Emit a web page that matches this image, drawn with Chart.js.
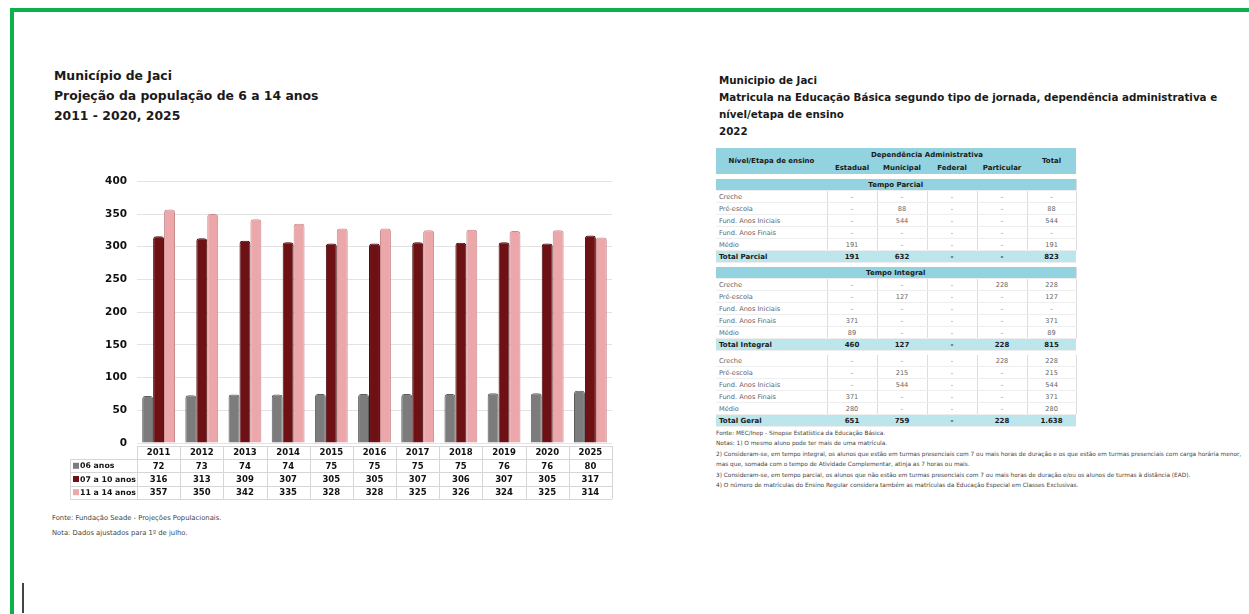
<!DOCTYPE html>
<html>
<head>
<meta charset="utf-8">
<script src="https://cdn.jsdelivr.net/npm/chart.js@4"></script>
<style>
body{margin:0;width:1249px;height:614px;overflow:hidden;position:relative;background:#fff;font-family:"DejaVu Sans",sans-serif}
.frame{position:absolute;left:10px;top:8px;width:1300px;height:700px;border-top:4px solid #0db14b;border-left:4px solid #0db14b}
.cursor{position:absolute;left:22px;top:583px;width:2px;height:30px;background:#444}
.ttl{position:absolute;font-weight:bold;color:#1a1a1a}
#t1{left:54px;top:66px;font-size:12.4px;line-height:20px}
#t2{left:719px;top:72px;font-size:10.3px;line-height:17px}
.fonte{position:absolute;left:52px;top:511px;font-size:6.8px;line-height:15px;color:#444}
#wrap{position:absolute;left:60px;top:165px;width:570px;height:345px}
#tab{position:absolute;left:716px;top:148px;width:360px;border-collapse:collapse;font-size:6.6px;color:#666;table-layout:fixed}
#tab td{height:11px;padding:0 3px;text-align:center;border-right:1px solid #ddd;border-bottom:1px solid #eee;white-space:nowrap}
#tab td.lab{text-align:left}
#tab .h td{background:#92d3df;font-weight:bold;color:#1a1a1a;font-size:7px;border-right:none;border-bottom:none;height:13px}
#tab .sec td{background:#92d3df;font-weight:bold;color:#1a1a1a;font-size:7px;text-align:center}
#tab .tot td{background:#bce5ec;font-weight:bold;color:#1a1a1a;font-size:7px;border-right:none}
#tab .gap td{height:5px;border:none;background:#fff}
#tab .gap2 td{height:4px;border:none;background:#fff}
.notes{position:absolute;left:716px;top:428px;font-size:5.8px;line-height:10.4px;color:#444;white-space:nowrap}
</style>
</head>
<body>
<div class="frame"></div>
<div class="cursor"></div>

<div class="ttl" id="t1">Município de Jaci<br>Projeção da população de 6 a 14 anos<br>2011 - 2020, 2025</div>
<div id="wrap"><canvas id="popChart"></canvas></div>
<div class="fonte">Fonte: Fundação Seade - Projeções Populacionais.<br>Nota: Dados ajustados para 1º de julho.</div>

<div class="ttl" id="t2">Municipio de Jaci<br>Matricula na Educação Básica segundo tipo de jornada, dependência administrativa e<br>nível/etapa de ensino<br>2022</div>
<table id="tab">
<colgroup><col style="width:111px"><col style="width:50px"><col style="width:50px"><col style="width:50px"><col style="width:50px"><col style="width:49px"></colgroup>
</table>
<div class="notes">
Fonte: MEC/Inep - Sinopse Estatística da Educação Básica.<br>
Notas: 1) O mesmo aluno pode ter mais de uma matrícula.<br>
2) Consideram-se, em tempo integral, os alunos que estão em turmas presenciais com 7 ou mais horas de duração e os que estão em turmas presenciais com carga horária menor,<br>
mas que, somada com o tempo de Atividade Complementar, atinja as 7 horas ou mais.<br>
3) Consideram-se, em tempo parcial, os alunos que não estão em turmas presenciais com 7 ou mais horas de duração e/ou os alunos de turmas à distância (EAD).<br>
4) O número de matrículas do Ensino Regular considera também as matrículas da Educação Especial em Classes Exclusivas.
</div>

<script>
// chart data
const years = ["2011","2012","2013","2014","2015","2016","2017","2018","2019","2020","2025"]
const age06 = [72,73,74,74,75,75,75,75,76,76,80]
const age07a10 = [316,313,309,307,305,305,307,306,307,305,317]
const age11a14 = [357,350,342,335,328,328,325,326,324,325,314]
const seriesNames = ["06 anos","07 a 10 anos","11 a 14 anos"]
const yTicks = [0,50,100,150,200,250,300,350,400]

// table data
const niveis = ["Creche","Pré-escola","Fund. Anos Iniciais","Fund. Anos Finais","Médio"]
const parcial = [["-","-","-","-","-"],["-","88","-","-","88"],["-","544","-","-","544"],["-","-","-","-","-"],["191","-","-","-","191"]]
const totalParcial = ["191","632","-","-","823"]
const integral = [["-","-","-","228","228"],["-","127","-","-","127"],["-","-","-","-","-"],["371","-","-","-","371"],["89","-","-","-","89"]]
const totalIntegral = ["460","127","-","228","815"]
const geral = [["-","-","-","228","228"],["-","215","-","-","215"],["-","544","-","-","544"],["371","-","-","-","371"],["280","-","-","-","280"]]
const totalGeral = ["651","759","-","228","1.638"]

const colors = ["#7c7c7c","#6d1115","#eca7ab"]
const edges = ["#5e5e5e","#4a0a0d","#c98a8e"]

const dataTable = {
  id:"dataTable",
  afterDraw(chart){
    const ctx = chart.ctx
    const x = chart.scales.x
    const area = chart.chartArea
    const half = (x.getPixelForValue(1) - x.getPixelForValue(0)) / 2
    const top = area.bottom + 3
    const rowH = 13.2
    const labLeft = 10
    const right = x.getPixelForValue(years.length-1) + half
    const rows = [age06, age07a10, age11a14]
    ctx.save()
    ctx.strokeStyle = "#d6d6d6"
    ctx.lineWidth = 1
    for(let r=0;r<=4;r++){
      const yy = Math.round(top + r*rowH) + 0.5
      ctx.beginPath()
      ctx.moveTo(r==0 ? area.left : labLeft, yy)
      ctx.lineTo(right, yy)
      ctx.stroke()
    }
    for(let i=0;i<=years.length;i++){
      const xx = Math.round(area.left + i*half*2) + 0.5
      ctx.beginPath()
      ctx.moveTo(xx, top)
      ctx.lineTo(xx, top + 4*rowH)
      ctx.stroke()
    }
    ctx.beginPath()
    ctx.moveTo(labLeft+0.5, top+rowH)
    ctx.lineTo(labLeft+0.5, top+4*rowH)
    ctx.stroke()

    ctx.fillStyle = "#111"
    ctx.font = "bold 8.5px 'DejaVu Sans'"
    ctx.textAlign = "center"
    ctx.textBaseline = "middle"
    years.forEach((yr,i) => {
      const cx = x.getPixelForValue(i)
      ctx.fillText(yr, cx, top + rowH/2 + 0.5)
      rows.forEach((arr,r) => ctx.fillText(String(arr[i]), cx, top + (r+1.5)*rowH + 0.5))
    })
    ctx.textAlign = "left"
    ctx.font = "bold 7.8px 'DejaVu Sans'"
    seriesNames.forEach((nm,r) => {
      const cy = top + (r+1.5)*rowH
      ctx.fillStyle = colors[r]
      ctx.fillRect(labLeft+3, cy-3, 6, 6)
      ctx.fillStyle = "#111"
      ctx.fillText(nm, labLeft+10, cy+0.5)
    })
    ctx.restore()
  }
}

const datasets = [age06, age07a10, age11a14].map((d,i) => ({
  label: seriesNames[i],
  data: d,
  backgroundColor: colors[i],
  borderColor: edges[i],
  borderWidth: 1,
  borderRadius: {topLeft:3, topRight:3},
  borderSkipped: "bottom",
  categoryPercentage: 0.76,
  barPercentage: 1
}))

new Chart(document.getElementById("popChart"), {
  type: "bar",
  data: { labels: years, datasets: datasets },
  options: {
    responsive: true,
    maintainAspectRatio: false,
    animation: false,
    layout: { padding: { left: 27, right: 18, top: 14, bottom: 67 } },
    plugins: { legend: { display: false }, tooltip: { enabled: false } },
    scales: {
      x: { display: false },
      y: {
        min: 0, max: 400,
        afterFit(scale){ scale.width = 50 },
        afterBuildTicks(scale){ scale.ticks = yTicks.map(v => ({value:v})) },
        border: { display: false },
        grid: { color: "#e3e3e3", drawTicks: false },
        ticks: { padding: 10, color: "#111", font: { family: "DejaVu Sans", size: 10.5, weight: "bold" } }
      }
    }
  },
  plugins: [dataTable]
})

// right side table
const tab = document.getElementById("tab")
function addRow(cls, cells){
  const tr = document.createElement("tr")
  if(cls) tr.className = cls
  cells.forEach((c,k) => {
    const td = document.createElement("td")
    if(typeof c === "object"){
      td.textContent = c.t
      if(c.cs) td.colSpan = c.cs
      if(c.rs) td.rowSpan = c.rs
    } else {
      td.textContent = c
      if(k == 0) td.className = "lab"
    }
    tr.appendChild(td)
  })
  tab.appendChild(tr)
}
addRow("h", [{t:"Nível/Etapa de ensino", rs:2}, {t:"Dependência  Administrativa", cs:4}, {t:"Total", rs:2}])
addRow("h", ["Estadual","Municipal","Federal","Particular"].map(t => ({t:t})))
addRow("gap", [{t:"", cs:6}])
addRow("sec", [{t:"Tempo Parcial", cs:6}])
niveis.forEach((n,i) => addRow("", [n].concat(parcial[i])))
addRow("tot", ["Total Parcial"].concat(totalParcial))
addRow("gap2", [{t:"", cs:6}])
addRow("sec", [{t:"Tempo Integral", cs:6}])
niveis.forEach((n,i) => addRow("", [n].concat(integral[i])))
addRow("tot", ["Total Integral"].concat(totalIntegral))
addRow("gap2", [{t:"", cs:6}])
niveis.forEach((n,i) => addRow("", [n].concat(geral[i])))
addRow("tot", ["Total Geral"].concat(totalGeral))
</script>
</body>
</html>
